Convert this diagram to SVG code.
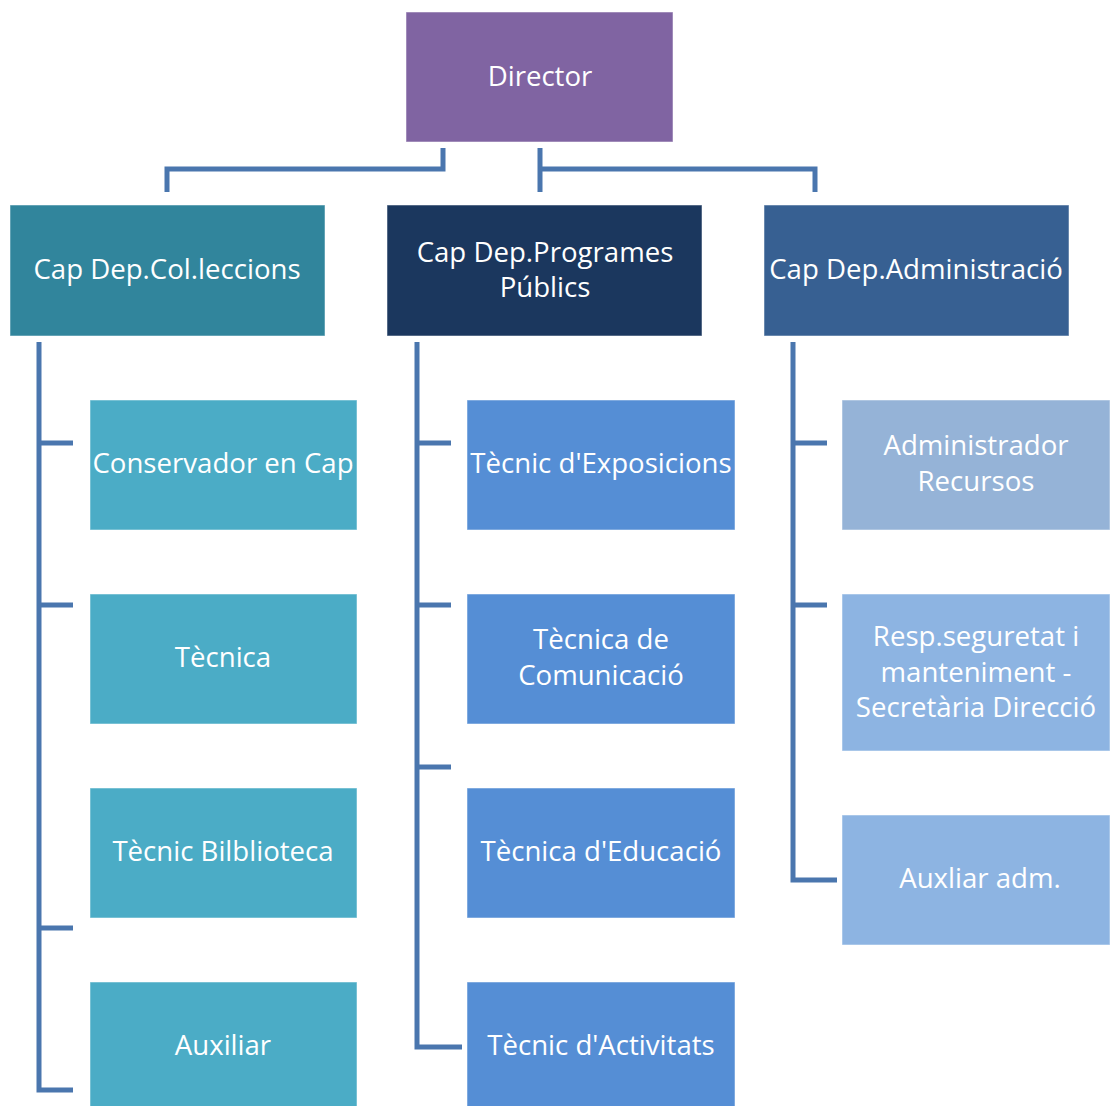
<svg xmlns="http://www.w3.org/2000/svg" width="1110" height="1106" viewBox="0 0 1110 1106">
<style>
text{font-family:"Open Sans","Noto Sans","Liberation Sans",sans-serif;font-size:27.6px;fill:#fff;text-anchor:middle}
.c{fill:none;stroke:#4a76ae;stroke-width:5;stroke-linejoin:miter}
.b{stroke:#fff;stroke-opacity:0.5;stroke-width:1}
</style>
<rect width="1110" height="1106" fill="#fff"/>
<g id="connectors">
<path class="c" d="M443 148V169H167V192"/>
<path class="c" d="M540 148V192M540 169H815V192"/>
<path class="c" d="M39 342V1090H73M39 443H73M39 605H73M39 928H73"/>
<path class="c" d="M417 342V1047H462M417 443H451M417 605H451M417 767H451"/>
<path class="c" d="M793 342V880H837M793 443H827M793 605H827"/>
</g>
<g id="director"><rect class="b" x="406" y="12" width="267" height="130" fill="#8064a2"/><text x="540" y="86">Director</text></g>
<g id="cap-col"><rect class="b" x="10" y="205" width="315" height="131" fill="#31859c"/><text x="167" y="279">Cap Dep.Col.leccions</text></g>
<g id="cap-prog"><rect class="b" x="387" y="205" width="315" height="131" fill="#1b375e"/><text x="545" y="262">Cap Dep.Programes</text><text x="545" y="297">Públics</text></g>
<g id="cap-adm"><rect class="b" x="764" y="205" width="305" height="131" fill="#376092"/><text x="916" y="279">Cap Dep.Administració</text></g>
<g id="conservador"><rect class="b" x="90" y="400" width="267" height="130" fill="#4bacc6"/><text x="223" y="473">Conservador en Cap</text></g>
<g id="tecnica"><rect class="b" x="90" y="594" width="267" height="130" fill="#4bacc6"/><text x="223" y="667">Tècnica</text></g>
<g id="biblioteca"><rect class="b" x="90" y="788" width="267" height="130" fill="#4bacc6"/><text x="223" y="861">Tècnic Bilblioteca</text></g>
<g id="auxiliar"><rect class="b" x="90" y="982" width="267" height="130" fill="#4bacc6"/><text x="223" y="1055">Auxiliar</text></g>
<g id="exposicions"><rect class="b" x="467" y="400" width="268" height="130" fill="#558ed5"/><text x="601" y="473">Tècnic d'Exposicions</text></g>
<g id="comunicacio"><rect class="b" x="467" y="594" width="268" height="130" fill="#558ed5"/><text x="601" y="649">Tècnica de</text><text x="601" y="685">Comunicació</text></g>
<g id="educacio"><rect class="b" x="467" y="788" width="268" height="130" fill="#558ed5"/><text x="601" y="861">Tècnica d'Educació</text></g>
<g id="activitats"><rect class="b" x="467" y="982" width="268" height="130" fill="#558ed5"/><text x="601" y="1055">Tècnic d'Activitats</text></g>
<g id="administrador"><rect class="b" x="842" y="400" width="268" height="130" fill="#95b3d7"/><text x="976" y="455">Administrador</text><text x="976" y="491">Recursos</text></g>
<g id="seguretat"><rect class="b" x="842" y="594" width="268" height="157" fill="#8db4e2"/><text x="976" y="646">Resp.seguretat i</text><text x="976" y="682">manteniment -</text><text x="976" y="717">Secretària Direcció</text></g>
<g id="auxliar-adm"><rect class="b" x="842" y="815" width="268" height="130" fill="#8db4e2"/><text x="980" y="888">Auxliar adm.</text></g>
</svg>
